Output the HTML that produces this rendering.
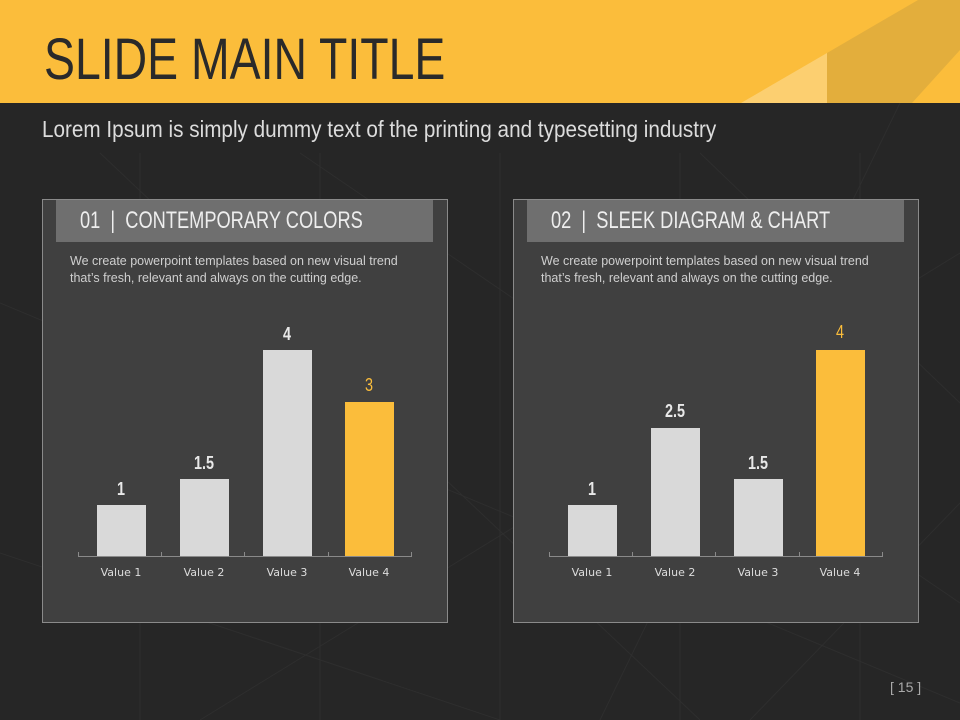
<!DOCTYPE html>
<html><head><meta charset="utf-8"><style>
*{margin:0;padding:0}
body{width:960px;height:720px;position:relative;overflow:hidden;background:#262626;font-family:"Liberation Sans",sans-serif}
.abs{position:absolute}
.cond{display:inline-block;transform-origin:0 0;white-space:nowrap}
.panel{position:absolute;top:199px;width:404px;height:422px;background:#404040;border:1px solid #8a8a8a}
.hdr{position:absolute;left:13px;top:0;width:377px;height:42px;background:#6f6f6f;color:#eee;font-size:24px;line-height:42px;padding-left:24px;box-sizing:border-box;white-space:nowrap;overflow:hidden}
.desc{position:absolute;left:27px;top:53px;font-size:12.5px;line-height:17px;color:#cfcfcf}
.bar{position:absolute;width:49px;background:#d9d9d9}
.y{background:#fbbd3b}
.lbl{position:absolute;width:80px;text-align:center;font-size:18px;font-weight:bold;color:#e8e8e8;transform:scaleX(.8)}
.xl{position:absolute;width:80px;text-align:center;font-family:"DejaVu Sans",sans-serif;font-size:11px;color:#ddd;top:366px}
.axis{position:absolute;left:35px;top:356px;width:334px;height:1px;background:#8a8a8a}
.tk{position:absolute;top:352px;width:1px;height:5px;background:#8a8a8a}
</style></head><body>
<svg class="abs" style="left:0;top:103px" width="960" height="617">
<g stroke="#2e2e2e" stroke-width="1" fill="none">
<path d="M0 200 L960 600 M960 150 L200 617 M300 50 L960 500 M0 450 L500 617 M700 50 L960 300 M900 0 L600 617 M100 50 L700 617 M960 400 L750 617"/>
<path d="M140 50 V617 M320 50 V617 M500 50 V617 M680 50 V617 M860 50 V617"/>
</g></svg>
<div class="abs" style="left:0;top:0;width:960px;height:103px;background:#fbbd3b"></div>
<svg class="abs" style="left:0;top:0" width="960" height="103">
<polygon points="827,53 918,0 960,0 960,50 912,103 827,103" fill="#e3ae3c"/>
<polygon points="741,103 827,53 827,103" fill="#fccf70"/>
</svg>
<div class="abs" style="left:44px;top:26px;font-size:58px;line-height:68px;color:#2a2a2a"><span class="cond" style="transform:scaleX(.8)">SLIDE MAIN TITLE</span></div>
<div class="abs" style="left:42px;top:116px;font-size:23px;color:#dcdcdc"><span class="cond" style="transform:scaleX(.9)">Lorem Ipsum is simply dummy text of the printing and typesetting industry</span></div>

<div class="panel" style="left:42px">
<div class="hdr"><span class="cond" style="transform:scaleX(.76)">01 &nbsp;|&nbsp; CONTEMPORARY COLORS</span></div>
<div class="desc">We create powerpoint templates based on new visual trend<br>that’s fresh, relevant and always on the cutting edge.</div>
<div class="axis"></div>
<div class="tk" style="left:35px"></div><div class="tk" style="left:118px"></div><div class="tk" style="left:201px"></div><div class="tk" style="left:285px"></div><div class="tk" style="left:368px"></div>
<div class="bar" style="left:54px;top:305px;height:51px"></div>
<div class="bar" style="left:137px;top:279px;height:77px"></div>
<div class="bar" style="left:220px;top:150px;height:206px"></div>
<div class="bar y" style="left:302px;top:202px;height:154px"></div>
<div class="lbl" style="left:38px;top:279px">1</div>
<div class="lbl" style="left:121px;top:253px">1.5</div>
<div class="lbl" style="left:204px;top:124px">4</div>
<div class="lbl" style="left:286px;top:175px;color:#fbbd3b;font-weight:normal">3</div>
<div class="xl" style="left:38px">Value 1</div><div class="xl" style="left:121px">Value 2</div><div class="xl" style="left:204px">Value 3</div><div class="xl" style="left:286px">Value 4</div>
</div>

<div class="panel" style="left:513px">
<div class="hdr"><span class="cond" style="transform:scaleX(.76)">02 &nbsp;|&nbsp; SLEEK DIAGRAM &amp; CHART</span></div>
<div class="desc">We create powerpoint templates based on new visual trend<br>that’s fresh, relevant and always on the cutting edge.</div>
<div class="axis"></div>
<div class="tk" style="left:35px"></div><div class="tk" style="left:118px"></div><div class="tk" style="left:201px"></div><div class="tk" style="left:285px"></div><div class="tk" style="left:368px"></div>
<div class="bar" style="left:54px;top:305px;height:51px"></div>
<div class="bar" style="left:137px;top:228px;height:128px"></div>
<div class="bar" style="left:220px;top:279px;height:77px"></div>
<div class="bar y" style="left:302px;top:150px;height:206px"></div>
<div class="lbl" style="left:38px;top:279px">1</div>
<div class="lbl" style="left:121px;top:201px">2.5</div>
<div class="lbl" style="left:204px;top:253px">1.5</div>
<div class="lbl" style="left:286px;top:122px;color:#fbbd3b;font-weight:normal">4</div>
<div class="xl" style="left:38px">Value 1</div><div class="xl" style="left:121px">Value 2</div><div class="xl" style="left:204px">Value 3</div><div class="xl" style="left:286px">Value 4</div>
</div>

<div class="abs" style="left:890px;top:679px;font-size:14px;color:#aaa">[ 15 ]</div>
</body></html>
